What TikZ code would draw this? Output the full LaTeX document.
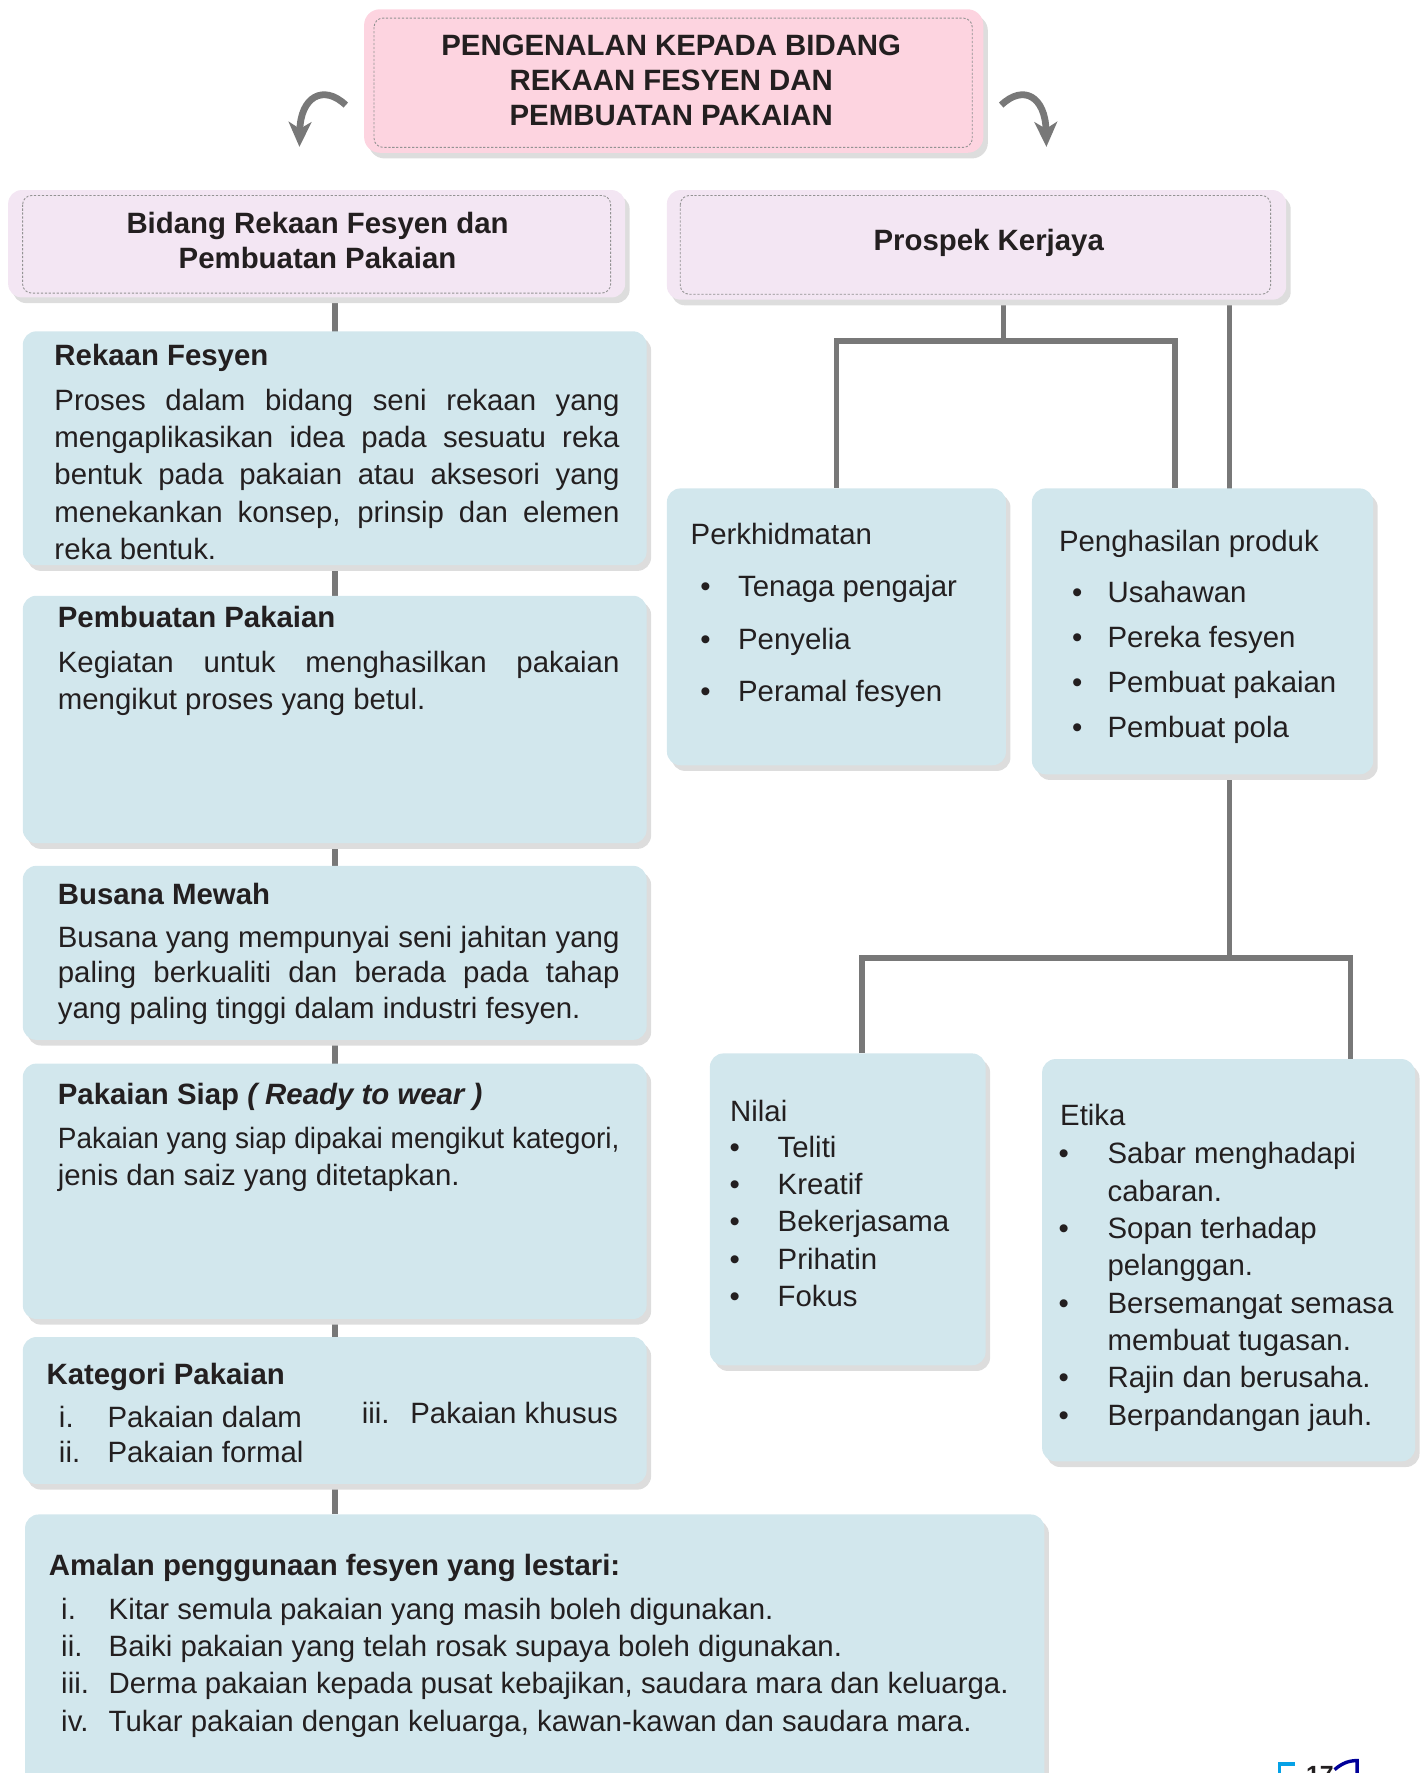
\documentclass[tikz,border=0pt]{standalone}
\usepackage{fontspec}
\setmainfont{Liberation Sans}
\usepackage{graphicx}
\usetikzlibrary{shadows,backgrounds,arrows.meta}

\definecolor{boxblue}{RGB}{210,231,237}
\definecolor{boxlilac}{RGB}{243,230,243}
\definecolor{boxpink}{RGB}{253,212,224}
\definecolor{linegrey}{RGB}{120,120,120}
\definecolor{shadegrey}{RGB}{221,221,221}
\definecolor{inkblack}{RGB}{35,31,32}

% one justified line of a paragraph
\newcommand{\jline}[2][500pt]{\makebox[#1][s]{#2}}

\tikzset{
    panel/.style={rectangle, anchor=north west, inner sep=0pt, draw=none, rounded corners=12pt,
        drop shadow={shadow xshift=4pt, shadow yshift=-5pt, fill=shadegrey, opacity=1}},
    bluebox/.style={panel, fill=boxblue},
    headbox/.style={panel, fill=boxlilac},
    titlebox/.style={panel, fill=boxpink, rounded corners=14pt},
    dashrim/.style={draw=linegrey!80, line width=0.8pt, dash pattern=on 2pt off 1.5pt, rounded corners=8pt},
    txt/.style={inner sep=0pt, anchor=north west, align=left, text=inkblack,
        font=\fontsize{26}{33}\selectfont},
    hd/.style={txt, font=\bfseries\fontsize{26}{31}\selectfont},
    conn/.style={draw=linegrey, line width=5pt},
    curl/.style={draw=linegrey, line width=6pt, -{Stealth[length=22pt, width=20pt, inset=6pt]}},
}

\begin{document}
\begin{tikzpicture}[x=1pt, y=-1pt]
\useasboundingbox (0,0) rectangle (1263,1569);

% top title
\node[titlebox, minimum width=548pt, minimum height=127pt] (title) at (322,8) {};
\draw[dashrim] ([shift={(9,8)}]title.north west) rectangle ([shift={(-10,-5)}]title.south east);
\node[hd, anchor=north, align=center] (titletx) at (594,31)
    {PENGENALAN KEPADA BIDANG\\REKAAN FESYEN DAN\\PEMBUATAN PAKAIAN};

\coordinate (la) at (306,93);
\coordinate (lb) at (265,130);
\draw[curl] (la) .. controls (286,74) and (266,86) .. (lb);
\coordinate (ra) at (886,93);
\coordinate (rb) at (926,130);
\draw[curl] (ra) .. controls (906,74) and (925,86) .. (rb);

% headings
\node[headbox, minimum width=546pt, minimum height=95pt] (bidang) at (7,168) {};
\draw[dashrim] ([shift={(13,5)}]bidang.north west) rectangle ([shift={(-13,-4)}]bidang.south east);
\node[hd, anchor=north, align=center] (bidangtx) at (281,188)
    {Bidang Rekaan Fesyen dan\\Pembuatan Pakaian};

\node[headbox, minimum width=548pt, minimum height=97pt] (prospek) at (590,168) {};
\draw[dashrim] ([shift={(12,5)}]prospek.north west) rectangle ([shift={(-14,-5)}]prospek.south east);
\node[hd, anchor=north] (prospektx) at (875,203) {Prospek Kerjaya};

% left column
\node[bluebox, minimum width=552pt, minimum height=207pt] (rekaan) at (20,293) {};
\node[hd] (rekaanhd) at (48,304) {Rekaan Fesyen};
\node[txt] (rekaantx) at (48,344)
    {\jline{Proses dalam bidang seni rekaan yang}\\
     \jline{mengaplikasikan idea pada sesuatu reka}\\
     \jline{bentuk pada pakaian atau aksesori yang}\\
     \jline{menekankan konsep, prinsip dan elemen}\\
     reka bentuk.};

\node[bluebox, minimum width=552pt, minimum height=219pt] (buatan) at (20,527) {};
\node[hd] (buatanhd) at (51,536) {Pembuatan Pakaian};
\node[txt] (buatantx) at (51,576)
    {\jline[497pt]{Kegiatan untuk menghasilkan pakaian}\\
     mengikut proses yang betul.};

\node[bluebox, minimum width=552pt, minimum height=154pt] (busana) at (20,766) {};
\node[hd] (busanahd) at (51,781) {Busana Mewah};
\node[txt, font=\fontsize{26}{31.5}\selectfont] (busanatx) at (51,819)
    {\jline[497pt]{Busana yang mempunyai seni jahitan yang}\\
     \jline[497pt]{paling berkualiti dan berada pada tahap}\\
     yang paling tinggi dalam industri fesyen.};

\node[bluebox, minimum width=552pt, minimum height=226pt] (siap) at (20,941) {};
\node[hd] (siaphd) at (51,958) {Pakaian Siap \textit{( Ready to wear )}};
\node[txt] (siaptx) at (51,997)
    {\resizebox{497pt}{\height}{Pakaian yang siap dipakai mengikut kategori,}\\
     jenis dan saiz yang ditetapkan.};

\node[bluebox, minimum width=552pt, minimum height=130pt] (kategori) at (20,1183) {};
\node[hd] (kategorihd) at (41,1206) {Kategori Pakaian};
\node[txt, font=\fontsize{26}{31}\selectfont] (kategoritx) at (52,1244)
    {\makebox[43pt][l]{i.}Pakaian dalam\\
     \makebox[43pt][l]{ii.}Pakaian formal};
\node[txt] (kategoritx3) at (320,1241) {\makebox[43pt][l]{iii.}Pakaian khusus};

\node[bluebox, minimum width=902pt, minimum height=280pt] (amalan) at (22,1340) {};
\node[hd] (amalanhd) at (43,1375) {Amalan penggunaan fesyen yang lestari:};
\node[txt] (amalantx) at (54,1414)
    {\makebox[42pt][l]{i.}Kitar semula pakaian yang masih boleh digunakan.\\
     \makebox[42pt][l]{ii.}Baiki pakaian yang telah rosak supaya boleh digunakan.\\
     \makebox[42pt][l]{iii.}Derma pakaian kepada pusat kebajikan, saudara mara dan keluarga.\\
     \makebox[42pt][l]{iv.}Tukar pakaian dengan keluarga, kawan-kawan dan saudara mara.};

% right column
\node[bluebox, minimum width=300pt, minimum height=245pt] (khidmat) at (590,432) {};
\node[txt] (khidmathd) at (611,463) {Perkhidmatan};
\node[txt, font=\fontsize{26}{46.5}\selectfont] (khidmattx) at (619.5,509)
    {\makebox[33.5pt][l]{\textbullet}Tenaga pengajar\\
     \makebox[33.5pt][l]{\textbullet}Penyelia\\
     \makebox[33.5pt][l]{\textbullet}Peramal fesyen};

\node[bluebox, minimum width=302pt, minimum height=253pt] (hasil) at (913,432) {};
\node[txt] (hasilhd) at (937,469) {Penghasilan produk};
\node[txt, font=\fontsize{26}{40}\selectfont] (hasiltx) at (948.5,514)
    {\makebox[31.5pt][l]{\textbullet}Usahawan\\
     \makebox[31.5pt][l]{\textbullet}Pereka fesyen\\
     \makebox[31.5pt][l]{\textbullet}Pembuat pakaian\\
     \makebox[31.5pt][l]{\textbullet}Pembuat pola};

\node[bluebox, minimum width=244pt, minimum height=276pt] (nilai) at (628,932) {};
\node[txt] (nilaihd) at (646,973) {Nilai};
\node[txt] (nilaitx) at (645.5,1005)
    {\makebox[42.5pt][l]{\textbullet}Teliti\\
     \makebox[42.5pt][l]{\textbullet}Kreatif\\
     \makebox[42.5pt][l]{\textbullet}Bekerjasama\\
     \makebox[42.5pt][l]{\textbullet}Prihatin\\
     \makebox[42.5pt][l]{\textbullet}Fokus};

\node[bluebox, minimum width=330pt, minimum height=356pt] (etika) at (922,937) {};
\node[txt] (etikahd) at (938,977) {Etika};
\node[txt] (etikatx) at (936.5,1011)
    {\makebox[43.5pt][l]{\textbullet}Sabar menghadapi\\
     \hspace*{43.5pt}cabaran.\\
     \makebox[43.5pt][l]{\textbullet}Sopan terhadap\\
     \hspace*{43.5pt}pelanggan.\\
     \makebox[43.5pt][l]{\textbullet}Bersemangat semasa\\
     \hspace*{43.5pt}membuat tugasan.\\
     \makebox[43.5pt][l]{\textbullet}Rajin dan berusaha.\\
     \makebox[43.5pt][l]{\textbullet}Berpandangan jauh.};

% connectors
\begin{pgfonlayer}{background}
\draw[conn] (bidang.south -| rekaan.north) -- (amalan.north -| rekaan.north);
\coordinate (pk) at (888,302);
\coordinate (pr) at (1040,302);
\draw[conn] (prospek.south -| pk) -- (pk);
\draw[conn] (khidmat.north) |- (pr) -- (pr |- hasil.north);
\coordinate (hv) at (1088,848);
\coordinate (nl) at (763,848);
\coordinate (er) at (1195,848);
\draw[conn] (prospek.south -| hv) -- (hv);
\draw[conn] (nilai.north -| nl) -- (nl) -- (er) -- (er |- etika.north);
\end{pgfonlayer}

% page mark, cut by the page edge
\draw[cyan!90!blue, line width=3pt] (1132,1580) -- (1132,1561) -- (1146,1561);
\node[inner sep=0pt, anchor=north, font=\bfseries\fontsize{22}{22}\selectfont, text=inkblack] (pagenum) at (1168,1563) {17};
\draw[blue!60!black, line width=3pt] (1181,1566) .. controls (1188,1560) and (1194,1558) .. (1201,1558) -- (1201,1580);
\end{tikzpicture}
\end{document}
